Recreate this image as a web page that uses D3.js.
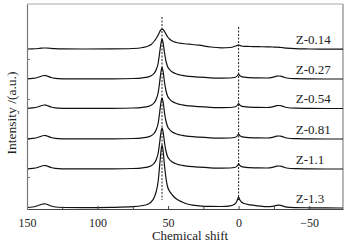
<!DOCTYPE html>
<html>
<head>
<meta charset="utf-8">
<script src="https://cdn.jsdelivr.net/npm/d3@7"></script>
<style>
  body { margin: 0; background: #fff; }
  svg { display: block; font-family: "Liberation Serif", "Times New Roman", serif; }
</style>
</head>
<body>
<div id="chart"></div>
<script>
// Stacked NMR spectra, intensity (px-ish units above each baseline)
const shifts = [150, 146, 142, 140, 138, 136.5, 135, 133, 130, 125, 110, 90, 75, 68, 64, 62, 60, 58.5, 57, 56,
  55, 54.3, 53.5, 52.5, 51.5, 50.5, 49, 47, 44, 40, 35, 28, 20, 12, 6, 3, 1.5, 0.5, 0, -0.7,
  -2, -4, -8, -14, -20, -24, -27, -29, -31, -34, -40, -50, -62, -74];

const sampleNames = ["Z-0.14", "Z-0.27", "Z-0.54", "Z-0.81", "Z-1.1", "Z-1.3"];
const offsets = [160, 130, 100.5, 70, 40, 1];

const z014 = [0, 0.2, 0.5, 0.8, 1.0, 1.0, 0.9, 0.6, 0.3, 0.1, 0, 0.1, 0.5, 1.5, 3, 4.5, 7.5, 10.5, 14, 17,
  19.3, 20, 19.5, 17.5, 15, 12.5, 10, 8, 6.5, 5.5, 4.8, 3.8, 2, 1.2, 1.5, 2.5, 3.3, 3.8, 4, 3.7,
  3, 2.6, 2.5, 2.3, 2.2, 2.0, 1.9, 1.7, 1.4, 0.9, 0.3, 0, -0.2, -0.2];
const z027 = [0.2, 0.6, 1.8, 2.8, 3.5, 3.3, 2.6, 1.5, 0.6, 0.2, 0.1, 0.2, 0.5, 1.2, 2.2, 3.2, 5.5, 9, 16, 26,
  36, 40, 36, 26, 18, 13, 9.5, 7, 5, 3.6, 2.6, 1.8, 1.2, 0.9, 1.0, 1.5, 2.4, 4, 5, 3.6,
  2.4, 1.8, 1.4, 1.1, 1.0, 1.6, 2.8, 3.0, 2.4, 1.0, 0.3, 0.1, 0, 0];
const z054 = [0.2, 0.6, 1.8, 2.8, 3.5, 3.3, 2.6, 1.5, 0.6, 0.2, 0.1, 0.2, 0.5, 1.2, 2.2, 3.2, 5.5, 9, 16, 26,
  37, 41, 37, 26, 18, 13, 9.5, 7, 5, 3.6, 2.6, 1.8, 1.2, 0.9, 1.0, 1.5, 2.4, 4, 5, 3.6,
  2.4, 1.8, 1.4, 1.1, 1.0, 1.6, 2.8, 3.0, 2.4, 1.0, 0.3, 0.1, 0, 0];
const z081 = [0.2, 0.6, 1.8, 2.8, 3.5, 3.3, 2.6, 1.5, 0.6, 0.2, 0.1, 0.2, 0.5, 1.2, 2.2, 3.2, 5.5, 9, 16, 26,
  37, 41, 37, 26, 18, 13, 9.5, 7, 5, 3.6, 2.6, 1.8, 1.2, 0.9, 1.0, 1.5, 2.4, 4, 5, 3.6,
  2.4, 1.8, 1.4, 1.1, 1.0, 1.6, 2.8, 3.0, 2.4, 1.0, 0.3, 0.1, 0, 0];
const z11 = [0.2, 0.6, 1.8, 2.8, 3.5, 3.3, 2.6, 1.5, 0.6, 0.2, 0.1, 0.2, 0.5, 1.2, 2.2, 3.2, 5.5, 9, 16, 26,
  37, 41, 37, 26, 18, 13, 9.5, 7, 5, 3.6, 2.6, 1.8, 1.2, 0.9, 1.0, 1.5, 2.4, 4, 5.5, 3.8,
  2.5, 1.8, 1.4, 1.1, 1.0, 1.6, 2.8, 3.0, 2.4, 1.0, 0.3, 0.1, 0, 0];
const z13 = [0.5, 1.0, 2.5, 3.5, 4.2, 4.0, 3.2, 2.0, 1.0, 0.5, 0.3, 0.6, 1.3, 2.5, 4, 6, 10, 16, 27, 42,
  57, 63, 57, 42, 30, 22, 17, 13, 9, 6, 3.5, 2.2, 1.6, 1.5, 2.2, 3.8, 6, 9.5, 11, 8.5,
  6, 4.5, 3.2, 2.2, 1.3, 1.6, 2.6, 2.8, 2.2, 0.9, 0.4, 0.2, 0.1, 0];
const seriesValues = [z014, z027, z054, z081, z11, z13];

// dashed reference lines (ppm, intensity span)
const refShifts = [54.3, 0];
const refTop = [192, 182];
const refBottom = [9, 9];

const xTicks = [150, 100, 50, 0, -50];
const xMinorTicks = [125, 75, 25, -25];
const yTicks = [32, 70, 110, 150];

const w = 347, h = 250;
const margin = { top: 4, right: 4, bottom: 41, left: 27 };

const svg = d3.select("#chart").append("svg")
  .attr("width", w)
  .attr("height", h);

const x = d3.scaleLinear()
  .domain([150, -74])
  .range([margin.left, w - margin.right]);

const y = d3.scaleLinear()
  .domain([0, 205])
  .range([h - margin.bottom, margin.top]);

// frame (top and right)
svg.append("line")
  .attr("x1", x(150)).attr("x2", x(-74))
  .attr("y1", y(205)).attr("y2", y(205))
  .attr("stroke", "#aaa").attr("stroke-width", 1.2);
svg.append("line")
  .attr("x1", x(-74)).attr("x2", x(-74))
  .attr("y1", y(205)).attr("y2", y(0))
  .attr("stroke", "#888").attr("stroke-width", 1.2);

// reference lines
svg.selectAll(".ref")
  .data(refShifts)
  .enter()
  .append("line")
  .attr("class", "ref")
  .attr("x1", d => x(d)).attr("x2", d => x(d))
  .attr("y1", (d, i) => y(refTop[i]))
  .attr("y2", (d, i) => y(refBottom[i]))
  .attr("stroke", "#222")
  .attr("stroke-width", 1)
  .attr("stroke-dasharray", "2,1.5");

// spectra
const line = d3.line()
  .x(d => x(d[0]))
  .y(d => y(d[1]))
  .curve(d3.curveMonotoneX);

seriesValues.forEach((vals, i) => {
  const pts = shifts.map((s, j) => [s, vals[j] + offsets[i]]);
  svg.append("path")
    .datum(pts)
    .attr("d", line)
    .attr("fill", "none")
    .attr("stroke", "#111")
    .attr("stroke-width", 1.2);

  svg.append("text")
    .attr("x", x(-40.5))
    .attr("y", y(offsets[i] + 5.5))
    .style("font-size", "13px")
    .style("fill", "#222")
    .text(sampleNames[i]);
});

// X axis
const xAxis = svg.append("g")
  .attr("transform", `translate(0,${y(0)})`)
  .call(d3.axisBottom(x)
    .tickValues(xTicks)
    .tickSizeInner(-3)
    .tickSizeOuter(0)
    .tickPadding(9)
    .tickFormat(d => d < 0 ? "\u2212" + Math.abs(d) : d));
xAxis.select(".domain").attr("stroke", "#444").attr("stroke-width", 1.2);
xAxis.selectAll(".tick line").attr("stroke", "#444");
xAxis.selectAll("text")
  .style("font-size", "12px")
  .style("font-family", "Liberation Serif, serif")
  .style("fill", "#222");

svg.append("g")
  .attr("transform", `translate(0,${y(0)})`)
  .call(d3.axisBottom(x).tickValues(xMinorTicks).tickSizeInner(-2.5).tickSizeOuter(0).tickFormat(""))
  .call(g => g.select(".domain").remove())
  .selectAll(".tick line").attr("stroke", "#444");

// Y axis (no labels)
const yAxis = svg.append("g")
  .attr("transform", `translate(${x(150)},0)`)
  .call(d3.axisLeft(y).tickValues(yTicks).tickSizeInner(-3).tickSizeOuter(0).tickFormat(""));
yAxis.select(".domain").attr("stroke", "#777").attr("stroke-width", 1.2);
yAxis.selectAll(".tick line").attr("stroke", "#777");

// axis titles
svg.append("text")
  .attr("x", 190)
  .attr("y", 240)
  .attr("text-anchor", "middle")
  .style("font-size", "13px")
  .style("fill", "#222")
  .text("Chemical shift");

svg.append("text")
  .attr("transform", "translate(16,113) rotate(-90)")
  .attr("text-anchor", "middle")
  .style("font-size", "13.5px")
  .style("fill", "#222")
  .text("Intensity /(a.u.)");
</script>
</body>
</html>
